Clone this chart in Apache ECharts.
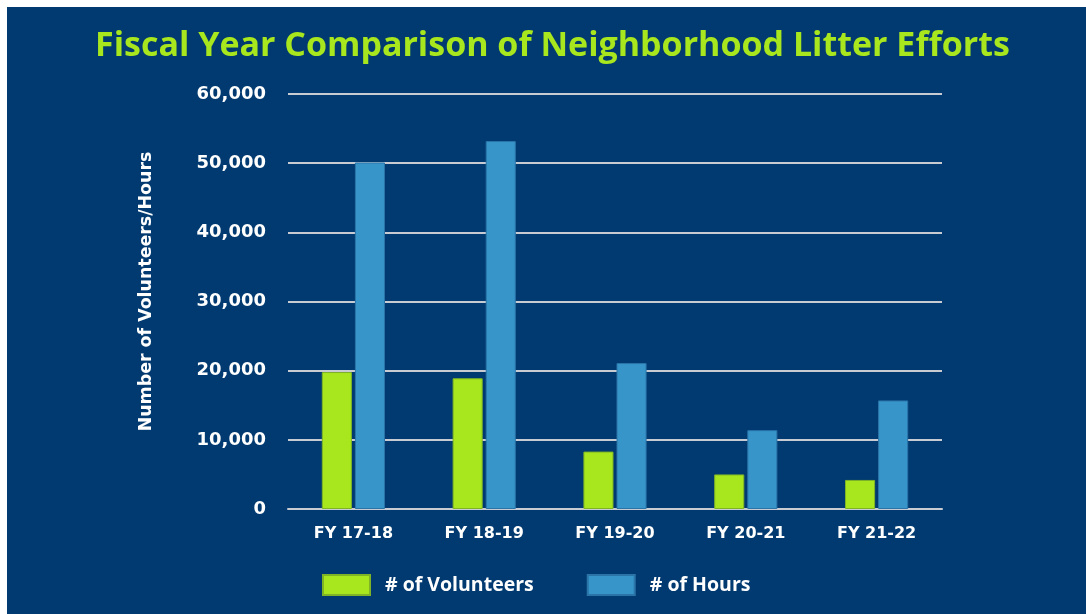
<!DOCTYPE html>
<html>
<head>
<meta charset="utf-8">
<script src="https://cdn.jsdelivr.net/npm/echarts@6/dist/echarts.min.js"></script>
<style>
  html, body { margin: 0; padding: 0; background: #ffffff; }
  #chart { position: absolute; left: 7px; top: 7px; width: 1079px; height: 607px; }
</style>
</head>
<body>
<div id="chart"></div>
<script>
const categories = ['FY 17-18', 'FY 18-19', 'FY 19-20', 'FY 20-21', 'FY 21-22'];
const volunteers = [19800, 18900, 8300, 5000, 4200];
const hours = [50100, 53200, 21100, 11400, 15700];

const font = '"Open Sans", sans-serif';
const wideFont = '"DejaVu Sans", sans-serif';

const chart = echarts.init(document.getElementById('chart'), null, { renderer: 'canvas' });
chart.setOption({
  backgroundColor: '#003a70',
  animation: false,
  title: {
    text: 'Fiscal Year Comparison of Neighborhood Litter Efforts',
    left: 83,
    top: 17,
    textStyle: { color: '#a8e61d', fontFamily: font, fontWeight: 700, fontSize: 34 }
  },
  legend: {
    left: 310,
    top: 562,
    itemWidth: 47,
    itemHeight: 20,
    itemGap: 53,
    icon: 'rect',
    textStyle: { color: '#ffffff', fontFamily: font, fontWeight: 700, fontSize: 19.5, padding: [0, 0, 0, 10] },
    data: ['# of Volunteers', '# of Hours']
  },
  grid: { left: 281, right: 144, top: 87, bottom: 105 },
  xAxis: {
    type: 'category',
    data: categories,
    axisTick: { show: false },
    axisLine: { show: true, lineStyle: { color: '#c8ccd2', width: 2 } },
    axisLabel: { color: '#ffffff', fontFamily: wideFont, fontWeight: 700, fontSize: 16, margin: 17 }
  },
  yAxis: {
    type: 'value',
    min: 0,
    max: 60000,
    interval: 10000,
    name: 'Number of Volunteers/Hours',
    nameLocation: 'middle',
    nameRotate: 90,
    nameGap: 133,
    nameTextStyle: { color: '#ffffff', fontFamily: wideFont, fontWeight: 700, fontSize: 17.4, padding: [0, 0, 0, 20] },
    axisLine: { show: false },
    axisTick: { show: false },
    splitLine: { lineStyle: { color: '#c8ccd2', width: 2 } },
    axisLabel: {
      color: '#ffffff', fontFamily: wideFont, fontWeight: 700, fontSize: 18, margin: 22,
      formatter: v => v.toLocaleString('en-US')
    }
  },
  series: [
    {
      name: '# of Volunteers',
      type: 'bar',
      data: volunteers,
      barWidth: '23%',
      barGap: '10%',
      itemStyle: { color: '#a8e61d', borderColor: '#7fb427', borderWidth: 1 }
    },
    {
      name: '# of Hours',
      type: 'bar',
      data: hours,
      barWidth: '23%',
      itemStyle: { color: '#3795ca', borderColor: '#2a74a8', borderWidth: 1 }
    }
  ]
});
</script>
</body>
</html>
